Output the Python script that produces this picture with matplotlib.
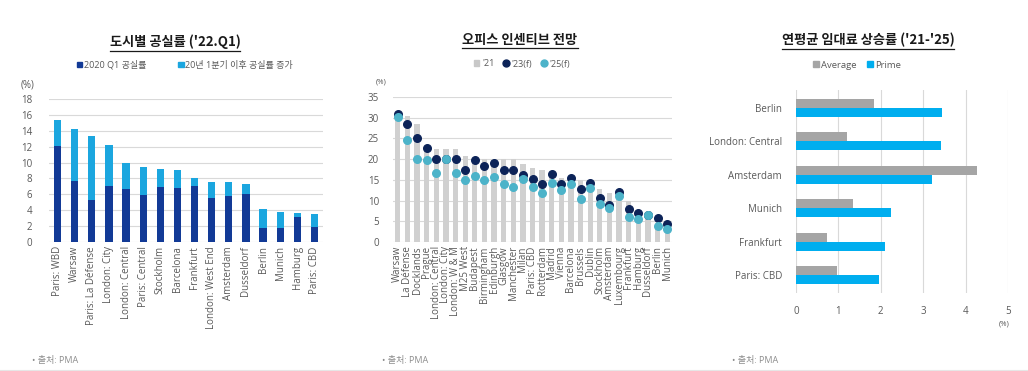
import numpy as np
import matplotlib
matplotlib.use('Agg')
import matplotlib.pyplot as plt
from matplotlib.patches import Patch
from matplotlib.lines import Line2D

plt.rcParams['font.family'] = ['Open Sans', 'Noto Sans CJK KR', 'DejaVu Sans']
KR = ['Noto Sans CJK KR', 'DejaVu Sans']

# --- data: vacancy by city ('22.Q1)
vac_cities = ['Paris: WBD', 'Warsaw', 'Paris: La Défense', 'London: City', 'London: Central',
              'Paris: Central', 'Stockholm', 'Barcelona', 'Frankfurt', 'London: West End',
              'Amsterdam', 'Dusseldorf', 'Berlin', 'Munich', 'Hamburg', 'Paris: CBD']
vac_2020q1 = [12.1, 7.7, 5.3, 7.1, 6.7, 5.9, 6.9, 6.8, 7.1, 5.6, 5.8, 6.0, 1.8, 1.8, 3.1, 1.9]
vac_total = [15.3, 14.2, 13.4, 12.2, 10.0, 9.4, 9.2, 9.1, 8.1, 7.6, 7.5, 7.3, 4.2, 3.8, 3.6, 3.5]

# --- data: office incentives outlook
inc_cities = ['Warsaw', 'La Défense', 'Docklands', 'Prague', 'London: Central', 'London: City',
              'London: W & M', 'M25 West', 'Budapest', 'Birmingham', 'Edinburgh', 'Glasgow',
              'Manchester', 'Milan', 'Paris: CBD', 'Rotterdam', 'Madrid', 'Vienna', 'Barcelona',
              'Brussels', 'Dublin', 'Stockholm', 'Amsterdam', 'Luxembourg', 'Frankfurt',
              'Hamburg', 'Dusseldorf', 'Berlin', 'Munich']
inc_21 = [30.5, 30.4, 28.4, 22.5, 22.5, 22.5, 22.5, 20.8, 20.0, 20.0, 19.8, 20.0, 20.0, 18.9,
          17.9, 17.3, 16.0, 15.4, 15.0, 15.0, 14.0, 12.9, 11.9, 11.0, 10.0, 6.8, 6.3, 4.0, 3.0]
inc_23f = [31.0, 28.5, 25.0, 22.8, 20.0, 20.0, 20.0, 17.5, 19.8, 18.3, 19.1, 17.4, 17.4, 16.2,
           15.1, 13.9, 16.4, 14.1, 15.5, 12.9, 14.3, 10.7, 8.9, 12.0, 7.9, 6.9, 6.6, 5.8, 4.4]
inc_25f = [30.1, 24.7, 20.0, 19.7, 16.7, 20.0, 16.7, 15.0, 16.0, 15.0, 15.8, 14.1, 13.3, 15.1,
           13.2, 11.9, 14.2, 12.6, 14.0, 10.3, 13.0, 9.2, 8.1, 11.0, 6.1, 5.6, 6.6, 3.8, 3.1]

# --- data: annual rent growth ('21-'25)
rent_cities = ['Berlin', 'London: Central', 'Amsterdam', 'Munich', 'Frankfurt', 'Paris: CBD']
rent_avg = [1.83, 1.2, 4.28, 1.35, 0.72, 0.96]
rent_prime = [3.44, 3.43, 3.21, 2.23, 2.09, 1.96]

W, H = 1028, 371
fig = plt.figure(figsize=(W / 100, H / 100), dpi=100)
fig.set_facecolor('white')

tick_col = '#595959'
grid_col = '#d9d9d9'


def fx(px):
    return px / W


def fy(py):
    return 1 - py / H


def style_axes(ax):
    for s in ax.spines.values():
        s.set_visible(False)
    ax.tick_params(length=0, colors=tick_col, labelsize=7)


# ---------------- left panel
ax1 = fig.add_axes([fx(49), fy(242), fx(274), (242 - 99) / H])
x1 = np.arange(len(vac_cities))
inc_part = np.array(vac_total) - np.array(vac_2020q1)
ax1.bar(x1, vac_2020q1, width=0.42, color='#123a96', zorder=3)
ax1.bar(x1, inc_part, bottom=vac_2020q1, width=0.42, color='#1ba6df', zorder=3)
ax1.set_xlim(-0.5, len(vac_cities) - 0.5)
ax1.set_ylim(0, 18)
ax1.set_yticks(range(0, 19, 2))
ax1.yaxis.grid(True, color=grid_col, linewidth=0.8, zorder=0)
ax1.set_xticks(x1)
ax1.set_xticklabels(vac_cities, rotation=90, fontsize=6.8, color=tick_col)
style_axes(ax1)
ax1.tick_params(axis='y', pad=12)
ax1.tick_params(axis='x', pad=3)

t1 = fig.text(fx(175), fy(42), "도시별 공실률 ('22.Q1)", ha='center', va='center',
              fontsize=9.5, fontweight='bold', color='#1a1a1a', family=KR)
fig.legend(handles=[Patch(color='#123a96'), Patch(color='#1ba6df')],
           labels=['2020 Q1 공실률', '20년 1분기 이후 공실률 증가'],
           loc='center', bbox_to_anchor=(fx(185), fy(65)), ncol=2, frameon=False,
           fontsize=6.5, handlelength=0.6, handleheight=0.6, handletextpad=0.2,
           columnspacing=3.5, labelcolor=tick_col)
fig.text(fx(28), fy(85), '(%)', ha='center', va='center', fontsize=7, color=tick_col)

# ---------------- middle panel
ax2 = fig.add_axes([fx(393), fy(242), fx(279), (242 - 97) / H])
x2 = np.arange(len(inc_cities))
ax2.bar(x2, inc_21, width=0.55, color='#d0d0d0', zorder=2)
ax2.scatter(x2, inc_23f, s=30, color='#0c2358', zorder=3)
ax2.scatter(x2, inc_25f, s=30, color='#4cb3c9', zorder=4)
ax2.set_xlim(-0.5, len(inc_cities) - 0.5)
ax2.set_ylim(0, 35)
ax2.set_yticks(range(0, 36, 5))
ax2.yaxis.grid(True, color=grid_col, linewidth=0.8, zorder=0)
ax2.set_xticks(x2)
ax2.set_xticklabels(inc_cities, rotation=90, fontsize=6.3, color=tick_col)
style_axes(ax2)
ax2.tick_params(axis='y', pad=10)
ax2.tick_params(axis='x', pad=3)

t2 = fig.text(fx(520), fy(40), "오피스 인센티브 전망", ha='center', va='center',
              fontsize=9.5, fontweight='bold', color='#1a1a1a', family=KR)
fig.legend(handles=[Patch(color='#c8c8c8'),
                    Line2D([], [], marker='o', ls='', color='#0c2358', markersize=5),
                    Line2D([], [], marker='o', ls='', color='#4cb3c9', markersize=5)],
           labels=["'21", "'23(f)", "'25(f)"],
           loc='center', bbox_to_anchor=(fx(522), fy(64)), ncol=3, frameon=False,
           fontsize=6.5, handlelength=0.6, handleheight=0.6, handletextpad=0.3,
           columnspacing=1.0, labelcolor=tick_col)
fig.text(fx(381), fy(82), '(%)', ha='center', va='center', fontsize=5.5, color=tick_col)

# ---------------- right panel
ax3 = fig.add_axes([fx(796), fy(293), fx(212), (293 - 90) / H])
y3 = np.arange(len(rent_cities))
bh = 0.27
ax3.barh(y3 - bh / 2, rent_avg, height=bh, color='#a5a5a5', zorder=3)
ax3.barh(y3 + bh / 2, rent_prime, height=bh, color='#00aeef', zorder=3)
ax3.set_xlim(0, 5)
ax3.set_ylim(len(rent_cities) - 0.47, -0.53)
ax3.set_xticks(range(0, 6))
ax3.xaxis.grid(True, color=grid_col, linewidth=0.8, zorder=0)
ax3.set_yticks(y3)
ax3.set_yticklabels(rent_cities, fontsize=7, color=tick_col)
style_axes(ax3)
ax3.tick_params(axis='y', pad=10)
ax3.tick_params(axis='x', pad=9)

t3 = fig.text(fx(868), fy(40), "연평균 임대료 상승률 ('21-'25)", ha='center', va='center',
              fontsize=9.5, fontweight='bold', color='#1a1a1a', family=KR)
fig.legend(handles=[Patch(color='#a5a5a5'), Patch(color='#00aeef')],
           labels=['Average', 'Prime'],
           loc='center', bbox_to_anchor=(fx(857), fy(65)), ncol=2, frameon=False,
           fontsize=6.8, handlelength=0.6, handleheight=0.6, handletextpad=0.2,
           columnspacing=1.2, labelcolor=tick_col)
fig.text(fx(1004), fy(324), '(%)', ha='center', va='center', fontsize=5.5, color=tick_col)

# footers
for px in (32, 382, 732):
    fig.text(fx(px), fy(360), '• 출처: PMA', ha='left', va='center', fontsize=6.5, color='#8c8c8c')
fig.add_artist(Line2D([0, 1], [fy(369.5), fy(369.5)], color='#e6e6e6', linewidth=0.8))

# underline titles
fig.canvas.draw()
inv = fig.transFigure.inverted()
for t in (t1, t2, t3):
    bb = t.get_window_extent().transformed(inv)
    yy = bb.y0 - 0.004
    fig.add_artist(Line2D([bb.x0, bb.x1], [yy, yy], color='#1a1a1a', linewidth=0.9))

fig.savefig('out.png', dpi=100)
